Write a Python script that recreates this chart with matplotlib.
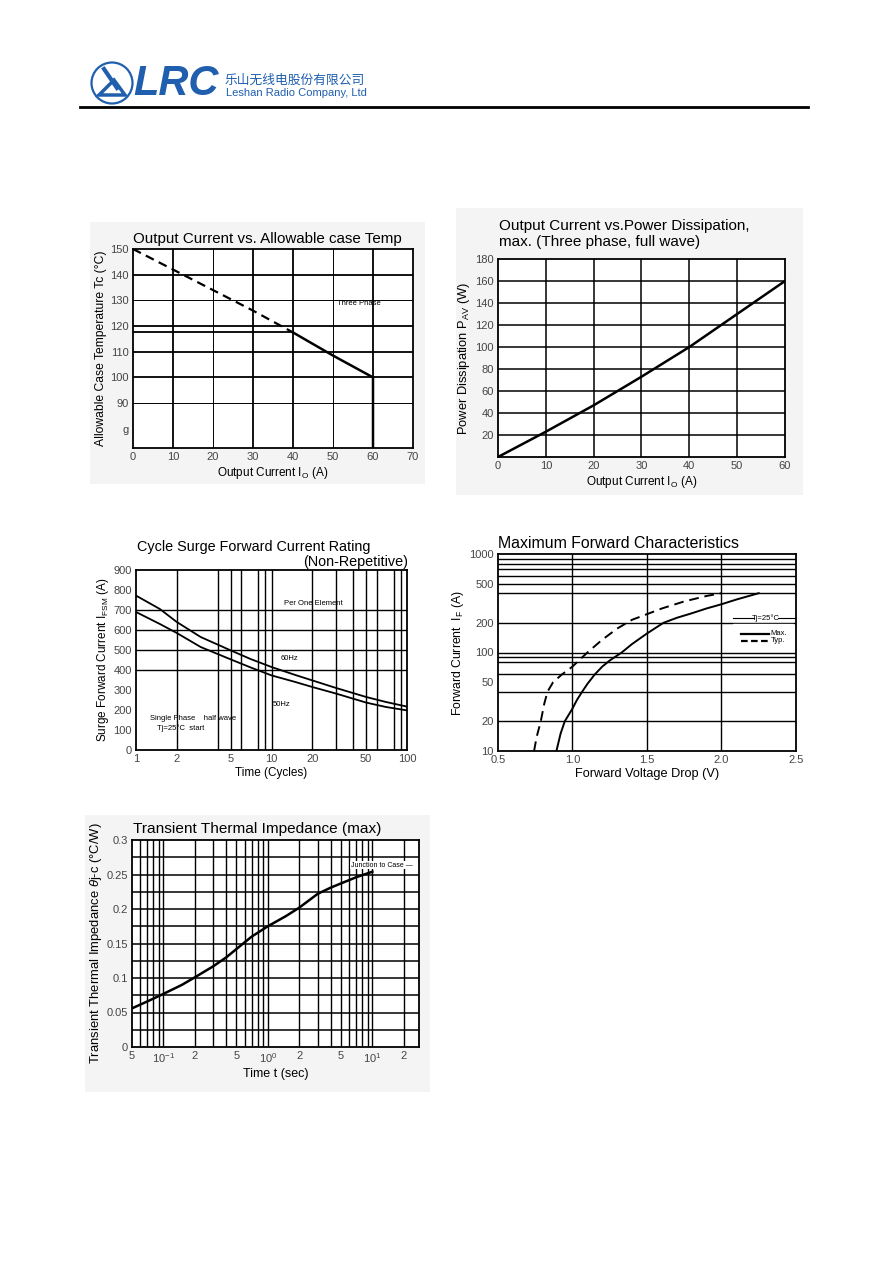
import numpy as np
import matplotlib
matplotlib.use("Agg")
import matplotlib.pyplot as plt
from matplotlib.patches import Rectangle, Circle, Polygon
from matplotlib.ticker import FixedLocator, FixedFormatter, NullLocator

plt.rcParams['font.family'] = ['Liberation Sans', 'DejaVu Sans']
plt.rcParams['mathtext.fontset'] = 'custom'
plt.rcParams['mathtext.rm'] = 'Liberation Sans'
plt.rcParams['mathtext.it'] = 'Liberation Sans:italic'

# ---- data ----
# 1) output current vs allowable case temperature
c1_i_dash = [0, 10, 20, 30, 40]
c1_t_dash = [150, 142, 134, 126, 117.5]
c1_i_solid = [40, 50, 60, 60]
c1_t_solid = [117.5, 108.5, 100, 72.5]

# 2) output current vs power dissipation
c2_i = [0, 10, 20, 30, 40, 50, 60]
c2_p = [0, 23, 47, 73, 100, 130, 160]

# 3) surge forward current vs cycles
c3_cycles = [1, 1.5, 2, 3, 5, 7, 10, 15, 20, 30, 50, 70, 100]
c3_60hz = [772, 705, 640, 565, 498, 455, 415, 375, 348, 310, 265, 240, 217]
c3_50hz = [690, 630, 585, 515, 453, 413, 373, 340, 315, 282, 237, 215, 198]

# 4) forward characteristics
c4_v_typ = [0.742, 0.76, 0.787, 0.81, 0.832, 0.87, 0.93, 1.0, 1.05, 1.1, 1.2, 1.3,
            1.4, 1.5, 1.6, 1.75, 1.9, 2.0]
c4_i_typ = [10, 14, 20, 30, 40, 50, 60, 72, 85, 100, 135, 175, 215, 245, 280, 330, 375, 400]
c4_v_max = [0.892, 0.92, 0.948, 1.0, 1.03, 1.065, 1.1, 1.15, 1.2, 1.25, 1.33, 1.4, 1.5,
            1.61, 1.7, 1.8, 1.9, 2.0, 2.1, 2.25]
c4_i_max = [10, 15, 20, 27, 33, 40, 48, 60, 72, 83, 100, 122, 156, 200, 225, 250, 280,
            309, 345, 400]

# 5) transient thermal impedance
c5_t = [0.05, 0.07, 0.1, 0.15, 0.2, 0.3, 0.4, 0.5, 0.7, 1, 1.5, 2, 3, 4, 5, 7, 10]
c5_z = [0.056, 0.066, 0.077, 0.090, 0.101, 0.117, 0.130, 0.142, 0.160, 0.175, 0.190,
        0.202, 0.222, 0.231, 0.237, 0.246, 0.254]

W, H = 892, 1261
fig = plt.figure(figsize=(W / 100, H / 100), dpi=100)

# page layer in pixel units, behind all charts
page = fig.add_axes([0, 0, 1, 1], zorder=-10)
page.set_xlim(0, W)
page.set_ylim(H, 0)
page.axis('off')


def px_axes(left, top, right, bottom):
    ax = fig.add_axes([left / W, 1 - bottom / H, (right - left) / W, (bottom - top) / H])
    ax.set_facecolor('white')
    return ax


def style(ax):
    for sp in ax.spines.values():
        sp.set_linewidth(1.3)
    ax.tick_params(length=0, labelsize=8, labelcolor='#444444', pad=3)


# ---- header ----
blue = '#1f5fae'
page.add_patch(Circle((112, 83), 20.5, fill=False, ec=blue, lw=1.6))
page.add_patch(Polygon([(99, 95), (125, 95), (114, 80)], closed=True, fill=False, ec=blue, lw=2.5))
page.plot([104, 117], [69, 88], color=blue, lw=3)
page.text(133, 84, 'LRC', fontsize=30, fontweight='bold', fontstyle='italic', color=blue,
          va='center')
page.text(225, 80, '乐山无线电股份有限公司', fontsize=9.2, color=blue, va='center',
          family=['Noto Sans CJK SC', 'DejaVu Sans'])
page.text(226, 93, 'Leshan Radio Company, Ltd', fontsize=8, color=blue, va='center')
page.plot([80, 808], [107, 107], color='black', lw=2)

# light scan backgrounds
for l, t, r, b in [(90, 222, 425, 484), (456, 208, 803, 495), (85, 815, 430, 1092)]:
    page.add_patch(Rectangle((l, t), r - l, b - t, color='#f4f4f4', lw=0))

# ---- chart 1 ----
ax1 = px_axes(133, 249, 413, 448)
ax1.set_xlim(0, 70)
ax1.set_ylim(72.5, 150)
for x, lw in [(10, 1.3), (20, 0.7), (30, 1.3), (40, 1.3), (50, 0.7), (60, 1.3)]:
    ax1.axvline(x, color='black', lw=lw, zorder=1)
for y, lw in [(140, 1.3), (130, 0.7), (120, 1.3), (110, 1.3), (100, 1.3), (90, 0.7)]:
    ax1.axhline(y, color='black', lw=lw, zorder=1)
ax1.plot([0, 40], [117.5, 117.5], color='black', lw=1.3)
ax1.plot(c1_i_dash, c1_t_dash, color='black', lw=1.6, ls=(0, (4, 2.5)))
ax1.plot(c1_i_solid, c1_t_solid, color='black', lw=1.8)
ax1.set_xticks(range(0, 71, 10))
ax1.set_yticks([80, 90, 100, 110, 120, 130, 140, 150])
ax1.set_yticklabels(['g', '90', '100', '110', '120', '130', '140', '150'])
ax1.text(51, 128, 'Three Phase', fontsize=5.5)
style(ax1)
ax1.set_xlabel('Output Current I$_\\mathrm{O}$ (A)', fontsize=8.5, labelpad=2)
ax1.set_ylabel('Allowable Case Temperature Tc (°C)', fontsize=8.7, labelpad=2)
page.text(133, 239, 'Output Current vs. Allowable case Temp', fontsize=10.9, va='center')

# ---- chart 2 ----
ax2 = px_axes(498, 259, 785, 457)
ax2.set_xlim(0, 60)
ax2.set_ylim(0, 180)
for x in range(10, 60, 10):
    ax2.axvline(x, color='black', lw=1.1, zorder=1)
for y in range(20, 180, 20):
    ax2.axhline(y, color='black', lw=1.1, zorder=1)
ax2.plot(c2_i, c2_p, color='black', lw=1.8)
ax2.set_xticks(range(0, 61, 10))
ax2.set_yticks(range(20, 181, 20))
style(ax2)
ax2.set_xlabel('Output Current I$_\\mathrm{O}$ (A)', fontsize=8.5, labelpad=2)
ax2.set_ylabel('Power Dissipation P$_\\mathrm{AV}$ (W)', fontsize=9.3, labelpad=2)
page.text(499, 226, 'Output Current vs.Power Dissipation,', fontsize=11, va='center')
page.text(499, 242, 'max. (Three phase, full wave)', fontsize=11, va='center')

# ---- chart 3 ----
ax3 = px_axes(136, 570, 407, 750)
ax3.set_xscale('log')
ax3.set_xlim(1, 100)
ax3.set_ylim(0, 900)
for x in [2, 4, 5, 6, 8, 9, 10, 20, 30, 40, 50, 60, 80, 90]:
    ax3.axvline(x, color='black', lw=1.0, zorder=1)
for y in [400, 500, 600, 700]:
    ax3.axhline(y, color='black', lw=1.0, zorder=1)
ax3.plot(c3_cycles, c3_60hz, color='black', lw=1.3)
ax3.plot(c3_cycles, c3_50hz, color='black', lw=1.3)
ax3.xaxis.set_major_locator(FixedLocator([1, 2, 5, 10, 20, 50, 100]))
ax3.xaxis.set_major_formatter(FixedFormatter(['1', '2', '5', '10', '20', '50', '100']))
ax3.xaxis.set_minor_locator(NullLocator())
ax3.set_yticks(range(0, 901, 100))
ax3.text(20.5, 730, 'Per One Element', fontsize=5.5, ha='center', va='center')
ax3.text(13.5, 457, '60Hz', fontsize=5.5, ha='center', va='center')
ax3.text(11.9, 227, '50Hz', fontsize=5.5, ha='center', va='center')
ax3.text(1.26, 155, 'Single Phase    half wave', fontsize=5.5, va='center')
ax3.text(1.42, 107, 'Tj=25°C  start', fontsize=5.5, va='center')
style(ax3)
ax3.set_xlabel('Time (Cycles)', fontsize=8.5, labelpad=2)
ax3.set_ylabel('Surge Forward Current I$_\\mathrm{FSM}$ (A)', fontsize=8.5, labelpad=2)
page.text(137, 547, 'Cycle Surge Forward Current Rating', fontsize=10.4, va='center')
page.text(408, 562, '(Non-Repetitive)', fontsize=10.4, va='center', ha='right')

# ---- chart 4 ----
ax4 = px_axes(498, 554, 796, 751)
ax4.set_yscale('log')
ax4.set_xlim(0.5, 2.5)
ax4.set_ylim(10, 1000)
for x in [1.0, 1.5, 2.0]:
    ax4.axvline(x, color='black', lw=1.0, zorder=1)
for y in [20, 40, 60, 80, 90, 100, 200, 400, 500, 600, 700, 800, 900]:
    ax4.axhline(y, color='black', lw=1.0, zorder=1)
ax4.plot(c4_v_typ, c4_i_typ, color='black', lw=1.4, ls=(0, (5, 3)))
ax4.plot(c4_v_max, c4_i_max, color='black', lw=1.4)
ax4.set_xticks([0.5, 1.0, 1.5, 2.0, 2.5])
ax4.set_xticklabels(['0.5', '1.0', '1.5', '2.0', '2.5'])
ax4.yaxis.set_major_locator(FixedLocator([10, 20, 50, 100, 200, 500, 1000]))
ax4.yaxis.set_major_formatter(FixedFormatter(['10', '20', '50', '100', '200', '500', '1000']))
ax4.yaxis.set_minor_locator(NullLocator())
style(ax4)
ax4.set_xlabel('Forward Voltage Drop (V)', fontsize=9.2, labelpad=2)
ax4.set_ylabel('Forward Current  I$_\\mathrm{F}$ (A)', fontsize=8.8, labelpad=2)
page.text(498, 543, 'Maximum Forward Characteristics', fontsize=11.4, va='center')
# legend drawn like the datasheet
ax4.add_patch(Rectangle((2.08, 115), 0.4, 80, color='white', zorder=2))
ax4.text(2.30, 225, 'Tj=25°C', fontsize=5.5, ha='center', va='center', zorder=3)
ax4.plot([2.08, 2.22], [225, 225], color='black', lw=0.8, zorder=3)
ax4.plot([2.38, 2.5], [225, 225], color='black', lw=0.8, zorder=3)
ax4.plot([2.13, 2.32], [155, 155], color='black', lw=1.6, zorder=3)
ax4.plot([2.13, 2.32], [132, 132], color='black', lw=1.6, ls=(0, (3, 1.5)), zorder=3)
ax4.text(2.33, 155, 'Max.', fontsize=5.5, va='center', zorder=3)
ax4.text(2.33, 132, 'Typ.', fontsize=5.5, va='center', zorder=3)

# ---- chart 5 ----
ax5 = px_axes(132, 840, 419, 1047)
ax5.set_xscale('log')
ax5.set_xlim(0.05, 28)
ax5.set_ylim(0, 0.3)
for x in [0.06, 0.07, 0.08, 0.09, 0.1, 0.2, 0.3, 0.4, 0.5, 0.6, 0.7, 0.8, 0.9, 1,
          2, 3, 4, 5, 6, 7, 8, 9, 10, 20]:
    ax5.axvline(x, color='black', lw=1.0, zorder=1)
for y in np.arange(0.025, 0.3, 0.025):
    ax5.axhline(y, color='black', lw=1.1, zorder=1)
ax5.plot(c5_t, c5_z, color='black', lw=1.8)
ax5.xaxis.set_major_locator(FixedLocator([0.05, 0.1, 0.2, 0.5, 1, 2, 5, 10, 20]))
ax5.xaxis.set_major_formatter(FixedFormatter(['5', '$10^{-1}$', '2', '5', '$10^{0}$', '2', '5',
                                              '$10^{1}$', '2']))
ax5.xaxis.set_minor_locator(NullLocator())
ax5.set_yticks([0, 0.05, 0.1, 0.15, 0.2, 0.25, 0.3])
ax5.set_yticklabels(['0', '0.05', '0.1', '0.15', '0.2', '0.25', '0.3'])
ax5.text(6.2, 0.2635, 'Junction to Case —', fontsize=5, va='center',
         bbox=dict(fc='white', ec='none', pad=0.5))
style(ax5)
ax5.set_xlabel('Time t (sec)', fontsize=9, labelpad=2)
ax5.set_ylabel('Transient Thermal Impedance $\\theta$j-c (°C/W)', fontsize=9.4, labelpad=2)
page.text(133, 829, 'Transient Thermal Impedance (max)', fontsize=11.1, va='center')

fig.savefig('out.png', dpi=100, facecolor='white')
